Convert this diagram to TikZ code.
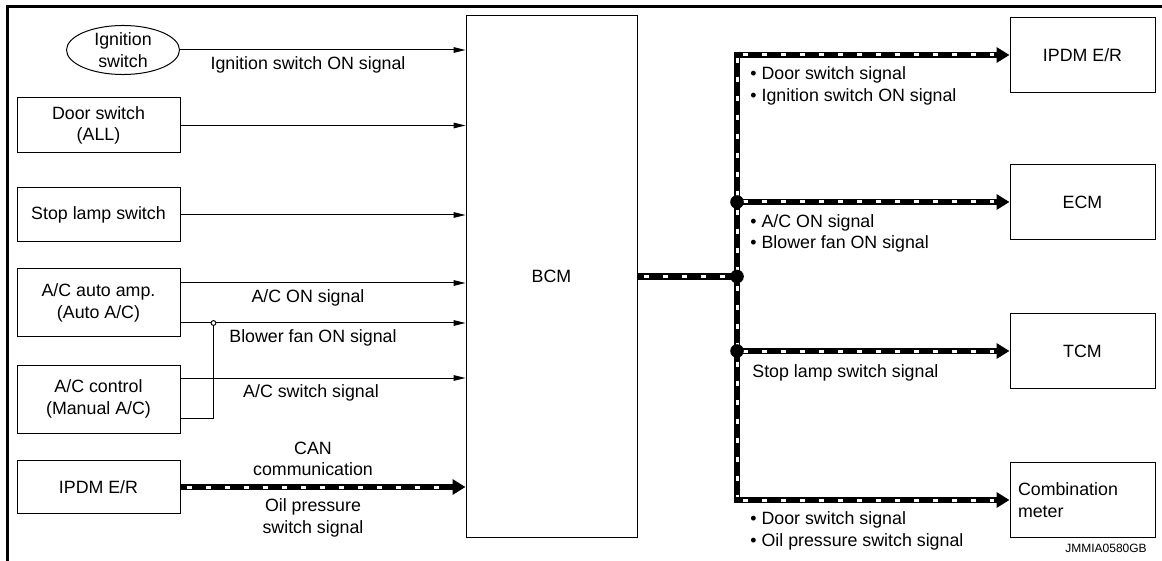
\documentclass[tikz,border=0pt]{standalone}
\usepackage{fontspec}
\setmainfont{Liberation Sans}
\usetikzlibrary{arrows.meta,shapes.geometric}

\begin{document}
\begin{tikzpicture}[x=0.5pt, y=-0.5pt, font=\fontsize{8.9}{10.8}\selectfont,
  unit/.style={draw, line width=0.5pt, align=center, inner sep=2pt},
  srcbox/.style={unit, minimum width=81.5pt},
  dstbox/.style={unit, minimum width=72.5pt, minimum height=37.5pt},
  lbl/.style={inner sep=0pt},
  wire/.style={line width=0.5pt, -{Triangle[length=6pt,width=2.8pt]}},
  busdash/.style={draw=white, line width=1.5pt, -, dash pattern=on 2.6pt off 6.9pt, shorten <=3pt},
  busline/.style={line width=3.4pt, postaction={busdash, shorten >=3pt}},
  bus/.style={line width=3.4pt, -{Triangle[length=6.5pt,width=7.5pt]}, postaction={busdash, shorten >=8pt}}]

\useasboundingbox (0,0) rectangle (1162,561);

% ── FRAME ────────────────────────────────────────────────────────────────
\draw[line width=1.5pt] (7,561) -- (7,7) -- (1162,7);

% ── INPUTS (left column, x=17..180) ─────────────────────────────────────
\node[ellipse, draw, line width=0.5pt, minimum width=56.5pt, minimum height=23.5pt,
  inner sep=0pt, align=center] (ign) at (123,50) {Ignition\\switch};
\node[srcbox, minimum height=27.5pt] (door)   at (98.5,125.5) {Door switch\\(ALL)};
\node[srcbox, minimum height=27pt]   (stop)   at (98.5,215)   {Stop lamp switch};
\node[srcbox, minimum height=34pt]   (acauto) at (98.5,303)   {A/C auto amp.\\(Auto A/C)};
\node[srcbox, minimum height=34pt]   (acctrl) at (98.5,399)   {A/C control\\(Manual A/C)};
\node[srcbox, minimum height=26.5pt] (ipdmL)  at (98.5,487)   {IPDM E/R};

% ── BCM ──────────────────────────────────────────────────────────────────
\node[unit, minimum width=85.5pt, minimum height=260.5pt] (bcm) at (551.5,276.5) {BCM};

% ── OUTPUTS (right column, x=1010..1155) ────────────────────────────────
\node[dstbox] (ipdmR) at (1082.5,55)  {IPDM E/R};
\node[dstbox] (ecm)   at (1082.5,202) {ECM};
\node[dstbox] (tcm)   at (1082.5,351) {TCM};
\node[dstbox, text width=64.5pt, align=left, inner sep=4pt] (meter) at (1082.5,500) {Combination\\meter};

% ── INPUT WIRES ──────────────────────────────────────────────────────────
\coordinate (aconS) at ([yshift=10pt]acauto.east);
\coordinate (blowS) at ([yshift=-10pt]acauto.east);
\coordinate (swS)   at ([yshift=10.5pt]acctrl.east);
\coordinate (tieS)  at ([yshift=-9.5pt]acctrl.east);
\coordinate (tieJ)  at ([xshift=16.5pt]blowS);

\draw[wire] (ign)   -- (ign -| bcm.west);
\draw[wire] (door)  -- (door -| bcm.west);
\draw[wire] (stop)  -- (stop -| bcm.west);
\draw[wire] (aconS) -- (aconS -| bcm.west);
\draw[wire] (blowS) -- (blowS -| bcm.west);
\draw[wire] (swS)   -- (swS -| bcm.west);
\draw[line width=0.5pt] (tieS) -| (tieJ);
\draw[line width=0.5pt, fill=white] (tieJ) circle (1.2pt);
\draw[bus] (ipdmL) -- (ipdmL -| bcm.west);

\node[lbl] (lIgn)  at (308,65)  {Ignition switch ON signal};
\node[lbl] (lAcon) at (308,298) {A/C ON signal};
\node[lbl] (lBlow) at (313,338) {Blower fan ON signal};
\node[lbl] (lSw)   at (311,393) {A/C switch signal};
\node[lbl, align=center] (lCan) at (313,459) {CAN\\communication};
\node[lbl, align=center] (lOil) at (313,518) {Oil pressure\\switch signal};

% ── OUTPUT BUS (x=737) ───────────────────────────────────────────────────
\coordinate (jtop) at (737,55);
\coordinate (j1)   at (737,202);
\coordinate (j2)   at (737,276.5);
\coordinate (j3)   at (737,351);
\coordinate (jbot) at (737,500);

\draw[busline] ([yshift=1.7pt]jtop) -- ([yshift=-1.7pt]jbot);
\draw[busline] (bcm.east) -- (j2);
\draw[bus] (jtop) -- (ipdmR);
\draw[bus] (j1)   -- (ecm);
\draw[bus] (j3)   -- (tcm);
\draw[bus] (jbot) -- (meter);
\foreach \j in {j1,j2,j3} \fill (\j) circle (3.4pt);

\node[lbl, anchor=west, align=left] (rIpdm)  at (750,86)    {• Door switch signal\\• Ignition switch ON signal};
\node[lbl, anchor=west, align=left] (rEcm)   at (750,233.5) {• A/C ON signal\\• Blower fan ON signal};
\node[lbl, anchor=west]             (rTcm)   at (752,373)   {Stop lamp switch signal};
\node[lbl, anchor=west, align=left] (rMeter) at (750,531)   {• Door switch signal\\• Oil pressure switch signal};

\node[lbl, font=\fontsize{6}{7}\selectfont] (code) at (1106,548) {JMMIA0580GB};

\end{tikzpicture}
\end{document}
